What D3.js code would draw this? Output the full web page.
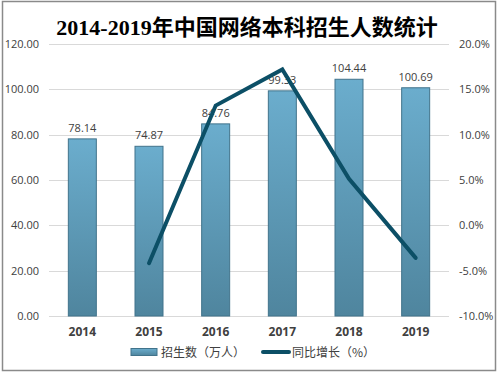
<!DOCTYPE html>
<html>
<head>
<meta charset="utf-8">
<script src="https://cdn.jsdelivr.net/npm/d3@7/dist/d3.min.js"></script>
<style>
  body { margin: 0; background: #fff; }
  svg { display: block; }
</style>
</head>
<body>
<div id="wrapper"></div>
<script>
/* data */
const years = ["2014", "2015", "2016", "2017", "2018", "2019"];
const enrolment = [78.14, 74.87, 84.76, 99.33, 104.44, 100.69];   // 万人
const growthYears = ["2015", "2016", "2017", "2018", "2019"];
const growth = [-4.18, 13.21, 17.19, 5.14, -3.59];                 // %
const leftTicks = [0, 20, 40, 60, 80, 100, 120];
const rightTicks = [-10, -5, 0, 5, 10, 15, 20];

function drawChart() {
  const dimensions = {
    width: 498,
    height: 375,
    margin: { top: 44, right: 49, bottom: 59, left: 49 },
  };
  dimensions.boundedWidth = dimensions.width - dimensions.margin.left - dimensions.margin.right;
  dimensions.boundedHeight = dimensions.height - dimensions.margin.top - dimensions.margin.bottom;

  const wrapper = d3.select("#wrapper").append("svg")
    .attr("width", dimensions.width)
    .attr("height", dimensions.height);

  // outer frame
  wrapper.append("rect")
    .attr("x", 2.5).attr("y", 1.5)
    .attr("width", 493).attr("height", 369)
    .attr("fill", "#fff")
    .attr("stroke", "#8a8a8a")
    .attr("stroke-width", 1.5);

  const defs = wrapper.append("defs");
  const grad = defs.append("linearGradient")
    .attr("id", "barGrad").attr("x1", 0).attr("y1", 0).attr("x2", 0).attr("y2", 1);
  grad.append("stop").attr("offset", "0%").attr("stop-color", "#6badcd");
  grad.append("stop").attr("offset", "100%").attr("stop-color", "#4f859e");

  const bounds = wrapper.append("g")
    .attr("transform", `translate(${dimensions.margin.left},${dimensions.margin.top})`);

  // scales
  const xScale = d3.scaleBand()
    .domain(years)
    .range([0, dimensions.boundedWidth]);
  const barWidth = xScale.bandwidth() * 0.42;

  const yScale = d3.scaleLinear()
    .domain([0, 120])
    .range([dimensions.boundedHeight, 0]);

  const yRight = d3.scaleLinear()
    .domain([-10, 20])
    .range([dimensions.boundedHeight, 0]);

  // gridlines
  bounds.append("g").selectAll("line")
    .data(leftTicks)
    .enter().append("line")
    .attr("x1", 0).attr("x2", dimensions.boundedWidth)
    .attr("y1", d => Math.round(yScale(d)) + 0.5)
    .attr("y2", d => Math.round(yScale(d)) + 0.5)
    .attr("stroke", "#d9d9d9")
    .attr("stroke-width", 1);

  // bars
  bounds.append("g").selectAll("rect")
    .data(years)
    .enter().append("rect")
    .attr("x", d => xScale(d) + (xScale.bandwidth() - barWidth) / 2)
    .attr("y", (d, i) => yScale(enrolment[i]))
    .attr("width", barWidth)
    .attr("height", (d, i) => dimensions.boundedHeight - yScale(enrolment[i]))
    .attr("fill", "url(#barGrad)")
    .attr("stroke", "#41738b")
    .attr("stroke-width", 1);

  // bar value labels
  bounds.append("g").selectAll("text")
    .data(years)
    .enter().append("text")
    .attr("x", d => xScale(d) + xScale.bandwidth() / 2)
    .attr("y", (d, i) => yScale(enrolment[i]) - 7)
    .attr("text-anchor", "middle")
    .attr("fill", "#404040")
    .style("font-family", "'Open Sans', 'DejaVu Sans', sans-serif")
    .style("font-size", "11px")
    .text((d, i) => enrolment[i].toFixed(2));

  // growth line
  const lineGen = d3.line()
    .x((d, i) => xScale(growthYears[i]) + xScale.bandwidth() / 2)
    .y(d => yRight(d));
  bounds.append("path")
    .datum(growth)
    .attr("d", lineGen)
    .attr("fill", "none")
    .attr("stroke", "#0c4f66")
    .attr("stroke-width", 4)
    .attr("stroke-linejoin", "miter")
    .attr("stroke-linecap", "round");

  // left axis
  const yAxis = bounds.append("g")
    .call(d3.axisLeft(yScale).tickValues(leftTicks).tickFormat(d => d.toFixed(2)).tickSize(0).tickPadding(10));
  yAxis.select(".domain").remove();
  yAxis.selectAll("text")
    .attr("fill", "#404040")
    .style("font-family", "'Open Sans', 'DejaVu Sans', sans-serif")
    .style("font-size", "11px");

  // right axis
  const yAxisR = bounds.append("g")
    .attr("transform", `translate(${dimensions.boundedWidth},0)`)
    .call(d3.axisRight(yRight).tickValues(rightTicks).tickFormat(d => d.toFixed(1) + "%").tickSize(0).tickPadding(10));
  yAxisR.select(".domain").remove();
  yAxisR.selectAll("text")
    .attr("fill", "#404040")
    .style("font-family", "'Open Sans', 'DejaVu Sans', sans-serif")
    .style("font-size", "11px");

  // x axis
  const xAxis = bounds.append("g")
    .attr("transform", `translate(0,${dimensions.boundedHeight})`)
    .call(d3.axisBottom(xScale).tickSize(0).tickPadding(11));
  xAxis.select(".domain").remove();
  xAxis.selectAll("text")
    .attr("fill", "#404040")
    .style("font-family", "'Open Sans', 'DejaVu Sans', sans-serif")
    .style("font-size", "12px")
    .style("font-weight", "bold");

  // title
  wrapper.append("text")
    .attr("x", 247)
    .attr("y", 35)
    .attr("text-anchor", "middle")
    .attr("fill", "#000")
    .style("font-family", "'Liberation Serif', 'Noto Sans CJK SC', serif")
    .style("font-size", "22px")
    .style("font-weight", "bold")
    .text("2014-2019年中国网络本科招生人数统计");

  // legend
  const legend = wrapper.append("g").attr("transform", "translate(0,352)");
  legend.append("rect")
    .attr("x", 131).attr("y", -3.5)
    .attr("width", 26).attr("height", 7)
    .attr("fill", "url(#barGrad)")
    .attr("stroke", "#41738b");
  legend.append("text")
    .attr("x", 161).attr("y", 4.5)
    .attr("fill", "#404040")
    .style("font-family", "'Noto Sans CJK SC', sans-serif")
    .style("font-size", "12px")
    .text("招生数（万人）");
  legend.append("line")
    .attr("x1", 263).attr("x2", 289)
    .attr("y1", 0).attr("y2", 0)
    .attr("stroke", "#0c4f66")
    .attr("stroke-width", 4)
    .attr("stroke-linecap", "round");
  legend.append("text")
    .attr("x", 292).attr("y", 4.5)
    .attr("fill", "#404040")
    .style("font-family", "'Noto Sans CJK SC', sans-serif")
    .style("font-size", "12px")
    .text("同比增长（%）");
}
drawChart();
</script>
</body>
</html>
